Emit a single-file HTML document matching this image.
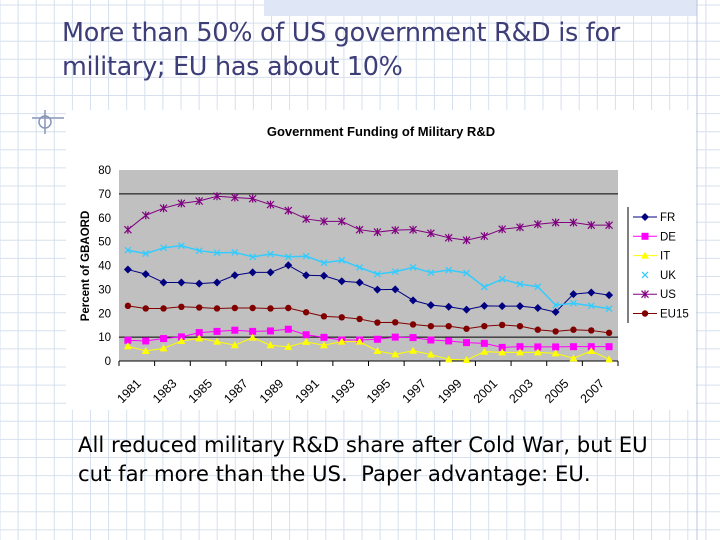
<!DOCTYPE html>
<html><head><meta charset="utf-8"><style>
body{margin:0;width:720px;height:540px;overflow:hidden;background:#fff;font-family:"Liberation Sans",sans-serif;position:relative}
#bg{position:absolute;left:0;top:0}
.title{position:absolute;left:62px;top:16px;font-size:25.5px;line-height:34px;color:#3d3d78;font-family:"DejaVu Sans","Liberation Sans",sans-serif;letter-spacing:-0.3px;white-space:nowrap}
.body{position:absolute;left:78px;top:430px;font-size:21.2px;line-height:29px;color:#000;font-family:"DejaVu Sans","Liberation Sans",sans-serif;white-space:nowrap}
</style></head><body>
<svg id="bg" width="720" height="540"></svg>
<div class="title">More than 50% of US government R&amp;D is for<br>military; EU has about 10%</div>
<svg id="chart" width="720" height="540" style="position:absolute;left:0;top:0"></svg>
<div class="body">All reduced military R&amp;D share after Cold War, but EU<br>cut far more than the US.&nbsp; Paper advantage: EU.</div>
<script>
const years=[1981,1982,1983,1984,1985,1986,1987,1988,1989,1990,1991,1992,1993,1994,1995,1996,1997,1998,1999,2000,2001,2002,2003,2004,2005,2006,2007,2008];
const FR=[38.3,36.4,32.9,32.9,32.4,32.9,35.9,37.1,37.1,40.1,35.9,35.7,33.4,32.9,29.9,30,25.4,23.4,22.7,21.5,23.1,23,23,22.2,20.5,28,28.7,27.6];
const DE=[8.7,8.4,9.4,10.1,11.9,12.4,12.9,12.4,12.6,13.3,11,9.9,8.8,8.8,9.1,10,9.8,8.8,8.4,7.7,7.4,5.7,6,5.9,5.9,6,6,6];
const IT=[6.2,4.2,5.3,8.4,9.5,8.1,6.6,9.8,6.6,5.9,8,6.6,8.1,8.1,4.2,2.8,4.3,2.7,0.7,0.4,3.9,3.6,3.6,3.6,3.2,1.1,4.2,0.7];
const UK=[46.4,45,47.4,48.3,46.2,45.3,45.5,43.6,44.8,43.6,43.9,41.1,42.2,39.2,36.4,37.4,39.2,37,38.1,36.8,31,34.3,32.2,31.1,23.4,24.2,23.1,21.9];
const US=[55,61,64,66,67,69,68.5,68,65.5,63,59.5,58.5,58.5,55,54,54.8,55,53.5,51.6,50.6,52.3,55.2,56,57.3,58,58,56.9,56.9];
const EU15=[23.1,22,22,22.7,22.4,22,22.2,22.2,22,22.2,20.4,18.7,18.3,17.6,16.1,16.2,15.3,14.6,14.6,13.5,14.6,15.1,14.6,13.1,12.4,13.1,12.8,11.8];
const yTicks=[0,10,20,30,40,50,60,70,80];
const seriesNames=["FR","DE","IT","UK","US","EU15"];
const NS="http://www.w3.org/2000/svg";
function mk(p,t,a){const e=document.createElementNS(NS,t);for(const k in a)e.setAttribute(k,a[k]);p.appendChild(e);return e;}
const bg=document.getElementById('bg');
for(let x=0;x<=720;x+=18.1){const l=mk(bg,'line',{x1:x,y1:0,x2:x,y2:540,stroke:'#d6e0ee','stroke-width':1});

}
for(let y=5;y<=540;y+=18.1){const l=mk(bg,'line',{x1:0,y1:y,x2:720,y2:y,stroke:'#d6e0ee','stroke-width':1});

}
mk(bg,'rect',{x:264,y:0,width:433,height:16,fill:'#dfe6f5'});
mk(bg,'line',{x1:697,y1:0,x2:697,y2:540,stroke:'#b8c4dc'});
mk(bg,'line',{x1:32,y1:118,x2:64,y2:118,stroke:'#8895b8','stroke-width':1.5});
mk(bg,'circle',{cx:45,cy:122,r:6,fill:'none',stroke:'#8895b8','stroke-width':1.5});
mk(bg,'line',{x1:45,y1:110,x2:45,y2:134,stroke:'#8895b8','stroke-width':1.5});

const svg=document.getElementById('chart');
mk(svg,'rect',{x:66,y:110,width:630,height:300,fill:'#fff'});
const L=119,R=618,T=170,B=361;
const n=years.length,band=(R-L)/n;
const xs=i=>L+band*(i+0.5);
const ys=v=>B-(v/80)*(B-T);
const t=mk(svg,'text',{x:381,y:136,'font-size':13,'font-weight':'bold','text-anchor':'middle',fill:'#000'});t.textContent='Government Funding of Military R&D';


const pa=mk(svg,'rect',{x:L,y:T,width:R-L,height:B-T,fill:'#c0c0c0'});


[10,70].forEach(v=>mk(svg,'line',{x1:L,y1:ys(v),x2:R,y2:ys(v),stroke:'#000','stroke-width':1}));
mk(svg,'line',{x1:L,y1:B,x2:R,y2:B,stroke:'#000'});
yTicks.forEach(v=>{const tx=mk(svg,'text',{x:L-8,y:ys(v)+4,'font-size':11.5,'text-anchor':'end',fill:'#000'});tx.textContent=v;

});
const yt=mk(svg,'text',{x:89,y:266,'font-size':11.5,'font-weight':'bold','text-anchor':'middle',transform:'rotate(-90 89 266)'});yt.textContent='Percent of GBAORD';


for(let i=0;i<=n;i+=2){mk(svg,'line',{x1:L+band*i,y1:B,x2:L+band*i,y2:B+5,stroke:'#000'});}
for(let i=0;i<n;i+=2){const x=xs(i)+4,y=B+33;const tx=mk(svg,'text',{x:x,y:y,'font-size':12.5,'text-anchor':'middle',transform:`rotate(-45 ${x} ${y})`});tx.textContent=years[i];

}
const cols={FR:'#000080',DE:'#ff00ff',IT:'#ffff00',UK:'#33ccff',US:'#800080',EU15:'#800000'};
const data={FR,DE,IT,UK,US,EU15};
function marker(g,name,x,y){const c=cols[name];
if(name==='FR')mk(g,'path',{d:`M${x} ${y-4}L${x+4} ${y}L${x} ${y+4}L${x-4} ${y}Z`,fill:c});
else if(name==='DE')mk(g,'rect',{x:x-3.5,y:y-3.5,width:7,height:7,fill:c});
else if(name==='IT')mk(g,'path',{d:`M${x} ${y-4}L${x+4} ${y+3}L${x-4} ${y+3}Z`,fill:c});
else if(name==='UK')mk(g,'path',{d:`M${x-3} ${y-3}L${x+3} ${y+3}M${x+3} ${y-3}L${x-3} ${y+3}`,stroke:c,'stroke-width':1.3});
else if(name==='US')mk(g,'path',{d:`M${x-3.5} ${y-3.5}L${x+3.5} ${y+3.5}M${x+3.5} ${y-3.5}L${x-3.5} ${y+3.5}M${x} ${y-4}L${x} ${y+4}`,stroke:c,'stroke-width':1.2});
else mk(g,'circle',{cx:x,cy:y,r:3.2,fill:c});}
seriesNames.forEach(name=>{const g=mk(svg,'g',{});


const vals=data[name];
mk(g,'polyline',{points:vals.map((v,i)=>xs(i)+','+ys(v)).join(' '),fill:'none',stroke:cols[name],'stroke-width':name==='UK'?1.5:1});
vals.forEach((v,i)=>marker(g,name,xs(i),ys(v)));});
mk(svg,'line',{x1:628,y1:207,x2:628,y2:323,stroke:'#000'});
seriesNames.forEach((name,k)=>{const y=217+k*19.3;const g=mk(svg,'g',{});


if(name!=='UK')mk(g,'line',{x1:633,y1:y,x2:657,y2:y,stroke:cols[name]});
marker(g,name,645,y);
const tx=mk(g,'text',{x:660,y:y+4,'font-size':11.5});tx.textContent=name;});
</script>
</body></html>
